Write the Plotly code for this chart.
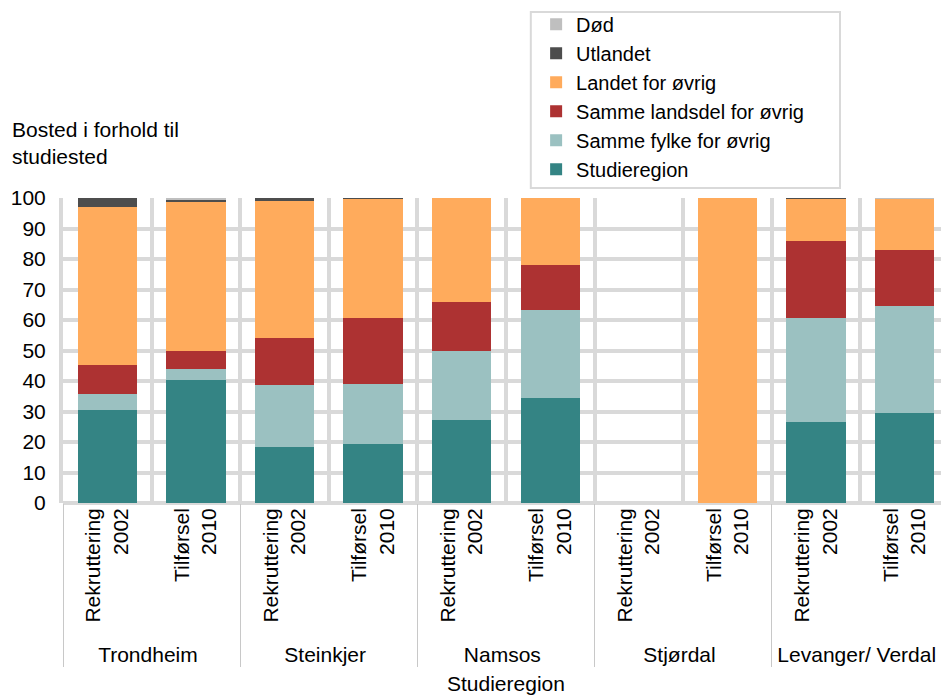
import plotly.graph_objects as go

regions = ["Trondheim", "Trondheim", "Steinkjer", "Steinkjer", "Namsos", "Namsos",
           "Stjørdal", "Stjørdal", "Levanger/ Verdal", "Levanger/ Verdal"]
periods = ["Rekruttering<br>2002", "Tilførsel<br>2010"] * 5

studieregion = [30.6, 40.4, 18.2, 19.2, 27.1, 34.4, 0, 0, 26.6, 29.4]
samme_fylke = [5.2, 3.4, 20.4, 19.8, 22.8, 29.0, 0, 0, 33.9, 35.2]
samme_landsdel = [9.6, 5.9, 15.4, 21.6, 15.9, 14.6, 0, 0, 25.4, 18.5]
landet = [51.5, 49.2, 45.0, 39.2, 34.2, 22.0, 0, 100.0, 13.8, 16.7]
utlandet = [3.1, 0.6, 1.0, 0.3, 0, 0, 0, 0, 0.3, 0]
dod = [0, 0.5, 0, 0, 0, 0, 0, 0, 0, 0.2]

series = [
    ("Studieregion", studieregion, "#348484"),
    ("Samme fylke for øvrig", samme_fylke, "#9BC1C1"),
    ("Samme landsdel for øvrig", samme_landsdel, "#AD3232"),
    ("Landet for øvrig", landet, "#FFAB5C"),
    ("Utlandet", utlandet, "#4D4D4D"),
    ("Død", dod, "#BFBFBF"),
]

FONT = "Liberation Sans, Arial, sans-serif"
FS = 21

fig = go.Figure()
for name, vals, col in series:
    fig.add_trace(go.Bar(
        x=[regions, periods], y=vals, name=name,
        marker=dict(color=col, line=dict(width=0)),
    ))

fig.update_layout(
    width=941, height=687,
    barmode="stack", bargap=0.33,
    plot_bgcolor="white", paper_bgcolor="white",
    margin=dict(l=55, r=0, t=190, b=192, autoexpand=False),
    font=dict(family=FONT, size=FS, color="black"),
    showlegend=True,
    legend=dict(
        traceorder="reversed",
        x=0.534, xanchor="left", y=1.634, yanchor="top",
        borderwidth=0, bgcolor="rgba(0,0,0,0)",
        font=dict(size=20), tracegroupgap=0, itemwidth=30,
    ),
    xaxis=dict(
        type="multicategory", tickson="boundaries", tickangle=-90,
        showgrid=True, gridcolor="#d9d9d9", gridwidth=4,
        showdividers=True, dividercolor="#c8c8c8", dividerwidth=1,
        ticks="", showline=False,
    ),
    yaxis=dict(
        range=[0, 100], dtick=10, showgrid=True, gridcolor="#d9d9d9", gridwidth=4,
        zeroline=True, zerolinecolor="#d9d9d9", zerolinewidth=4,
        showline=True, linecolor="#d9d9d9", linewidth=4,
        ticks="", ticklabelstandoff=9,
    ),
    shapes=[
        dict(type="rect", xref="paper", yref="paper",
             x0=0.528, x1=0.877, y0=1.033, y1=1.610,
             line=dict(color="#d9d9d9", width=2), fillcolor="rgba(0,0,0,0)", layer="below"),
    ],
    annotations=[
        dict(text="Bosted i forhold til<br>studiested", xref="paper", yref="paper",
             x=-0.06, y=1.092, xanchor="left", yanchor="bottom", align="left",
             showarrow=False, font=dict(size=FS)),
        dict(text="Studieregion", xref="paper", yref="paper",
             x=0.5, y=-0.593, xanchor="center", yanchor="middle",
             showarrow=False, font=dict(size=FS)),
    ],
)

fig.write_html("out.html")
